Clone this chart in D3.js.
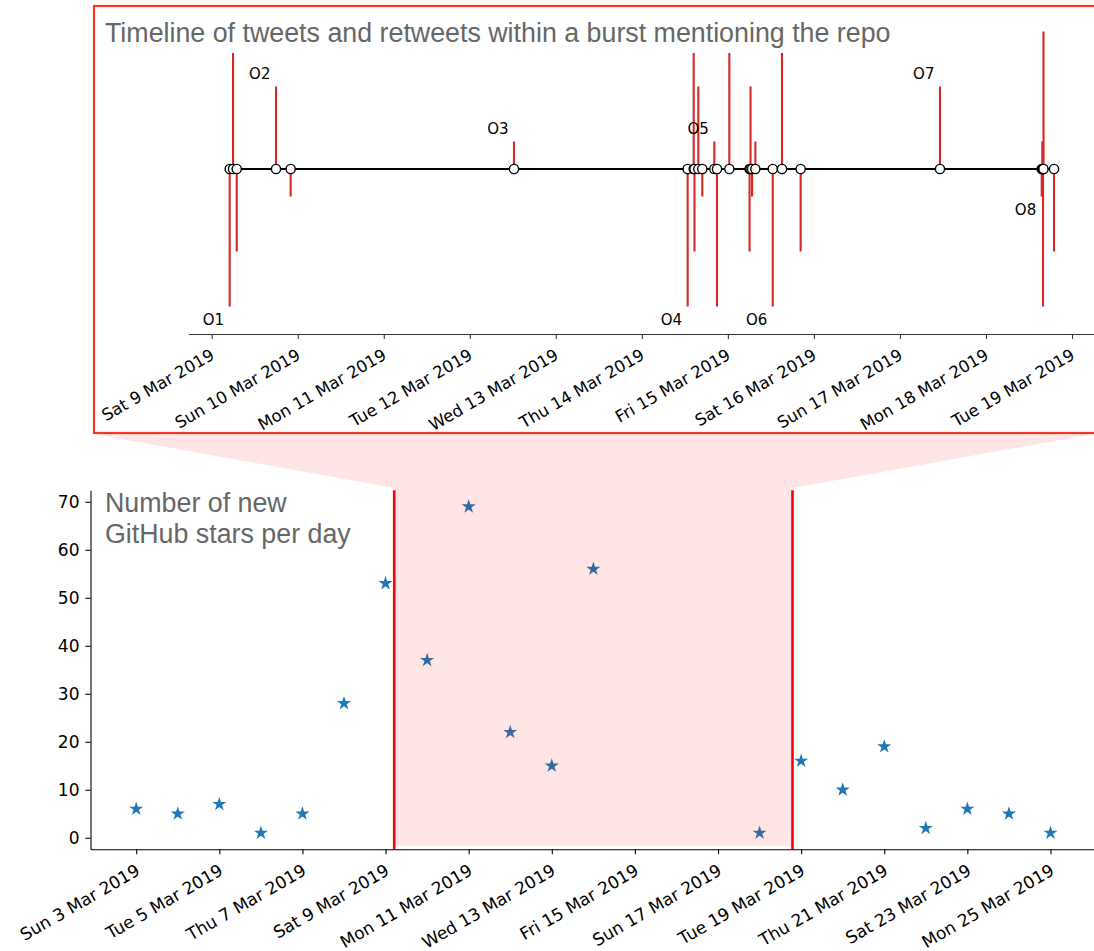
<!DOCTYPE html>
<html>
<head>
<meta charset="utf-8">
<script src="https://cdn.jsdelivr.net/npm/d3@7"></script>
<style>
  body { margin: 0; background: #fff; }
  svg { display: block; }
</style>
</head>
<body>
<svg id="chart" width="1094" height="951"></svg>
<script>
const parseTime = d3.timeParse("%Y-%m-%d %H:%M");
const parseDay = d3.timeParse("%Y-%m-%d");

// tweets / retweets inside the burst
const tweetTimes = [
  "2019-03-09 05:01", "2019-03-09 05:57", "2019-03-09 06:59", "2019-03-09 17:56",
  "2019-03-09 22:02", "2019-03-12 12:20", "2019-03-14 12:47", "2019-03-14 14:28",
  "2019-03-14 14:41", "2019-03-14 15:45", "2019-03-14 16:52", "2019-03-14 20:13",
  "2019-03-14 20:58", "2019-03-15 00:24", "2019-03-15 06:03", "2019-03-15 06:19",
  "2019-03-15 06:45", "2019-03-15 07:40", "2019-03-15 12:31", "2019-03-15 15:06",
  "2019-03-15 20:18", "2019-03-17 11:10", "2019-03-18 15:33", "2019-03-18 15:43",
  "2019-03-18 15:55", "2019-03-18 16:03", "2019-03-18 18:59"
];
const tweetLevels = [
  -5, 5, -3, 3, -1, 1, -5, 5, -3, 3, -1, 1, -5, 5,
  -3, 3, -1, 1, -5, 5, -3, 3, -1, 1, -5, 5, -3
];
const tweetLabels = [
  "O1", "", "", "O2", "", "O3", "O4", "", "", "", "", "O5", "", "",
  "", "", "", "", "O6", "", "", "O7", "O8", "", "", "", ""
];

const burstStart = "2019-03-09 05:00";
const burstEnd = "2019-03-18 19:00";

// new GitHub stars per day
const starDays = [
  "2019-03-03", "2019-03-04", "2019-03-05", "2019-03-06", "2019-03-07",
  "2019-03-08", "2019-03-09", "2019-03-10", "2019-03-11", "2019-03-12",
  "2019-03-13", "2019-03-14", "2019-03-18", "2019-03-19", "2019-03-20",
  "2019-03-21", "2019-03-22", "2019-03-23", "2019-03-24", "2019-03-25"
];
const starCounts = [6, 5, 7, 1, 5, 28, 53, 37, 69, 22, 15, 56, 1, 16, 10, 19, 2, 6, 5, 1];

const topTicks = [
  "2019-03-09", "2019-03-10", "2019-03-11", "2019-03-12", "2019-03-13", "2019-03-14",
  "2019-03-15", "2019-03-16", "2019-03-17", "2019-03-18", "2019-03-19"
];
const bottomTicks = [
  "2019-03-03", "2019-03-05", "2019-03-07", "2019-03-09", "2019-03-11", "2019-03-13",
  "2019-03-15", "2019-03-17", "2019-03-19", "2019-03-21", "2019-03-23", "2019-03-25"
];
const yTicks = [0, 10, 20, 30, 40, 50, 60, 70];

const tickFmt = d3.timeFormat("%a %-d %b %Y");
const svg = d3.select("#chart");

// ---------- bottom panel: stars per day ----------
const xB = d3.scaleTime()
  .domain([parseTime("2019-03-01 21:36"), parseTime("2019-03-26 02:24")])
  .range([90.5, 1096.2]);
const yB = d3.scaleLinear().domain([-2.4, 72.4]).range([849.3, 490.3]);

// pink connector between the zoomed timeline and the burst window
const x0 = xB(parseTime(burstStart)), x1 = xB(parseTime(burstEnd));
svg.append("path")
  .attr("d", `M94,434 L1094,434 L${x1},488 L${x0},488 Z`)
  .attr("fill", "rgba(255,0,0,0.1)");

const gB = svg.append("g");
gB.selectAll("path.star")
  .data(starDays)
  .join("path")
  .attr("class", "star")
  .attr("transform", (d, i) => `translate(${xB(parseDay(d))},${yB(starCounts[i])})`)
  .attr("d", d3.symbol(d3.symbolStar, 62))
  .attr("fill", "#1f77b4");

// shaded burst window drawn over the stars
gB.append("rect")
  .attr("x", x0).attr("y", 488)
  .attr("width", x1 - x0).attr("height", yB.range()[0] - 3.5 - 488)
  .attr("fill", "rgba(255,0,0,0.1)");

[burstStart, burstEnd].forEach((t) => {
  gB.append("line")
    .attr("x1", xB(parseTime(t))).attr("x2", xB(parseTime(t)))
    .attr("y1", yB.range()[1]).attr("y2", yB.range()[0])
    .attr("stroke", "#ff0000").attr("stroke-width", 2.6);
});

const axB = gB.append("g")
  .attr("transform", `translate(0,${yB.range()[0]})`)
  .call(d3.axisBottom(xB).tickValues(bottomTicks.map(parseDay)).tickFormat(tickFmt)
    .tickSize(5).tickSizeOuter(0));
axB.selectAll("text")
  .attr("y", null).attr("dy", null)
  .attr("text-anchor", "end")
  .attr("transform", "translate(4.4,24.6) rotate(-30)");

const ayB = gB.append("g")
  .attr("transform", `translate(${xB.range()[0]},0)`)
  .call(d3.axisLeft(yB).tickValues(yTicks).tickSize(5).tickPadding(6).tickSizeOuter(0));

[axB, ayB].forEach((a) => {
  a.selectAll("text").attr("font-family", "DejaVu Sans").attr("font-size", 17).attr("fill", "#000");
  a.selectAll("line, path").attr("stroke", "#000").attr("stroke-width", 1.1);
});

const subTitle = gB.append("text")
  .attr("x", 105).attr("y", 511.5)
  .attr("font-family", "Liberation Sans, Arial, sans-serif")
  .attr("font-size", 26.8).attr("fill", "#666");
subTitle.append("tspan").attr("x", 105).text("Number of new");
subTitle.append("tspan").attr("x", 105).attr("dy", 31.8).text("GitHub stars per day");

// ---------- top panel: burst timeline ----------
const xT = d3.scaleTime()
  .domain([parseTime("2019-03-08 17:30"), parseTime("2019-03-19 06:30")])
  .range([188.4, 1095.3]);
const yT = d3.scaleLinear().domain([-6, 6]).range([334, 4]);

const gT = svg.append("g");
gT.append("rect")
  .attr("x", 94).attr("y", 6).attr("width", 1010).attr("height", 427)
  .attr("fill", "#fff").attr("stroke", "#f03a22").attr("stroke-width", 2.2);

gT.selectAll("line.stem")
  .data(tweetTimes)
  .join("line")
  .attr("class", "stem")
  .attr("x1", (d) => xT(parseTime(d))).attr("x2", (d) => xT(parseTime(d)))
  .attr("y1", yT(0)).attr("y2", (d, i) => yT(tweetLevels[i]))
  .attr("stroke", "#d62728").attr("stroke-width", 2.1);

gT.append("path")
  .datum(tweetTimes)
  .attr("d", d3.line().x((d) => xT(parseTime(d))).y(() => yT(0)))
  .attr("fill", "none").attr("stroke", "#000").attr("stroke-width", 1.9);

gT.selectAll("circle.tw")
  .data(tweetTimes)
  .join("circle")
  .attr("class", "tw")
  .attr("cx", (d) => xT(parseTime(d))).attr("cy", yT(0)).attr("r", 4.6)
  .attr("fill", "#fff").attr("stroke", "#000").attr("stroke-width", 1.4);

gT.selectAll("text.olab")
  .data(tweetTimes.filter((d, i) => tweetLabels[i] !== ""))
  .join("text")
  .attr("class", "olab")
  .each(function (d) {
    const i = tweetTimes.indexOf(d);
    const lv = tweetLevels[i];
    d3.select(this)
      .attr("x", xT(parseTime(d)) - 5.5)
      .attr("y", lv > 0 ? yT(lv) - 8 : yT(lv) + 18)
      .text(tweetLabels[i]);
  })
  .attr("text-anchor", "end")
  .attr("font-family", "DejaVu Sans").attr("font-size", 15).attr("fill", "#000");

const axT = gT.append("g")
  .attr("transform", `translate(0,${yT(-6)})`)
  .call(d3.axisBottom(xT).tickValues(topTicks.map(parseDay)).tickFormat(tickFmt)
    .tickSize(5).tickSizeOuter(0));
axT.selectAll("text")
  .attr("y", null).attr("dy", null)
  .attr("text-anchor", "end")
  .attr("transform", "translate(3.3,24.3) rotate(-30)")
  .attr("font-family", "DejaVu Sans").attr("font-size", 16.5).attr("fill", "#000");
axT.selectAll("line, path").attr("stroke", "#333").attr("stroke-width", 1.1);

// title sits on a white box that hides the top of the tallest stems
gT.append("rect")
  .attr("x", 100).attr("y", 12).attr("width", 793).attr("height", 41)
  .attr("fill", "#fff");
gT.append("text")
  .attr("x", 105).attr("y", 42)
  .attr("font-family", "Liberation Sans, Arial, sans-serif")
  .attr("font-size", 26.8).attr("fill", "#666")
  .text("Timeline of tweets and retweets within a burst mentioning the repo");
</script>
</body>
</html>
